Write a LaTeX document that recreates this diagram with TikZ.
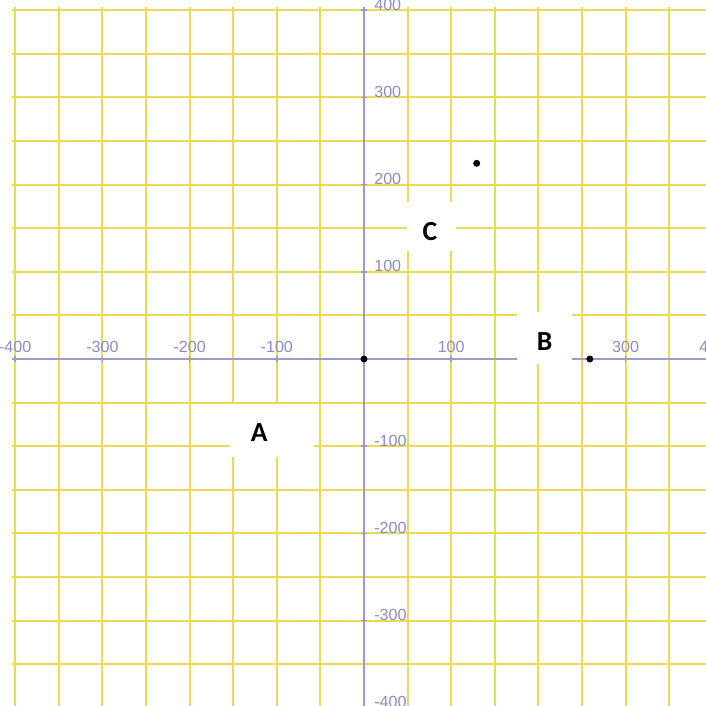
\documentclass[tikz,border=0pt]{standalone}
\usepackage{fontspec}
\setmainfont{Liberation Sans}
\newfontfamily\letterfont{Carlito}
\usepackage{xcolor}
\usepackage{tikz}
\usetikzlibrary{positioning}
\definecolor{gridyellow}{RGB}{236,218,85}
\definecolor{axisblue}{RGB}{155,155,205}
\definecolor{ticklabel}{RGB}{140,140,195}

\begin{document}
\begin{tikzpicture}[
    gridline/.style={draw=gridyellow, line width=1.3pt},
    axisline/.style={draw=axisblue, line width=1.1pt},
    xlab/.style={anchor=base, inner sep=0pt, text=ticklabel, font=\fontsize{10.5}{12}\selectfont},
    ylab/.style={anchor=base west, inner sep=0pt, text=ticklabel, font=\fontsize{10.5}{12}\selectfont},
    letter/.style={inner sep=0pt, font=\letterfont\bfseries\fontsize{18}{20}\selectfont},
    dot/.style={circle, fill=black, inner sep=0pt, minimum size=0.16cm}]
        \useasboundingbox (-8.349,-7.959) rectangle (7.844,8.234);
        \clip (-8.349,-7.959) rectangle (7.844,8.234);
        \fill[white] (-8.349,-7.959) rectangle (7.844,8.234);
        % grid
        \foreach \x in {-8,...,-1,1,2,...,7}
          \draw[gridline] (\x,8.07) -- (\x,-8.1);
        \foreach \y in {-7,...,-1,1,2,...,8}
          \draw[gridline] (-8.07,\y) -- (8,\y);
        % axes and ticks
        \draw[axisline] (-8.07,0) -- (8,0);
        \draw[axisline] (0,8.07) -- (0,-8.1);
        \foreach \t in {-8,-6,-4,-2,2,4,6,8}{
          \draw[axisline] (\t,-0.07) -- (\t,0.07);
          \draw[axisline] (-0.07,\t) -- (0.07,\t);
        }
        % tick labels
        \foreach \v in {-400,-300,-200,-100,100,300,400}
          \node[xlab] (xl\v) at (\v/50,0.15) {\v};
        \foreach \v in {-400,-300,-200,-100,100,200,300,400}
          \node[ylab] (yl\v) at (0.23,\v/50) {\v};
        % label boxes
        \fill[white] (-3.073,-2.241) rectangle (-1.147,-1.032);
        \fill[white] (3.502,-0.122) rectangle (4.764,1.067);
        \fill[white] (0.986,2.477) rectangle (2.110,3.601);
        \node[letter] (A) at (-2.404,-1.693) {A};
        \node[letter] (B) at (4.140,0.406) {B};
        \node[letter] (C) at (1.514,2.924) {C};
        % points
        \node[dot] (O) at (0,0) {};
        \node[dot] (P) at (5.18,0) {};
        \node[dot] (Q) at (2.585,4.488) {};
      \end{tikzpicture}
\end{document}
